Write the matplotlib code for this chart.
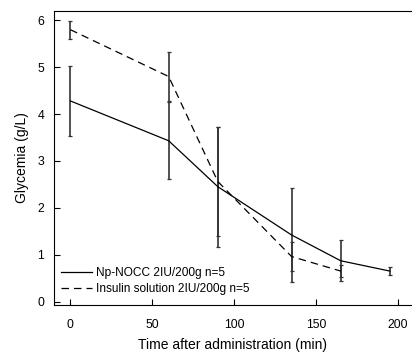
import matplotlib
matplotlib.use("Agg")
import matplotlib.pyplot as plt

plt.rcParams['font.family'] = ['Liberation Sans', 'DejaVu Sans']

# Np-NOCC 2IU/200g n=5
t_np = [0, 60, 90, 135, 165, 195]
g_np = [4.28, 3.43, 2.45, 1.42, 0.87, 0.65]
e_np = [0.75, 0.82, 1.28, 1.00, 0.44, 0.08]

# Insulin solution 2IU/200g n=5
t_ins = [0, 60, 90, 135, 165]
g_ins = [5.80, 4.80, 2.56, 0.96, 0.65]
e_ins = [0.19, 0.52, 1.17, 0.30, 0.13]

xticks = [0, 50, 100, 150, 200]
yticks = [0, 1, 2, 3, 4, 5, 6]

fig = plt.figure(figsize=(4.12, 3.52), dpi=100)
ax = fig.add_axes([0.131, 0.134, 0.867, 0.835])

ax.errorbar(t_np, g_np, yerr=e_np, color='black', lw=0.9, ecolor='#333333',
            elinewidth=1.2, capsize=1.6, capthick=0.9,
            label='Np-NOCC 2IU/200g n=5')
ax.errorbar(t_ins, g_ins, yerr=e_ins, color='black', lw=0.9, ecolor='#333333',
            elinewidth=1.2, capsize=1.6, capthick=0.9, dashes=(6, 4),
            label='Insulin solution 2IU/200g n=5')

ax.set_xlim(-10, 208)
ax.set_ylim(-0.07, 6.2)
ax.set_xticks(xticks)
ax.set_yticks(yticks)
ax.spines['right'].set_visible(False)
ax.tick_params(direction='in', length=4, width=0.8, labelsize=8.8)
ax.tick_params(axis='x', pad=10)
ax.tick_params(axis='y', pad=7)
ax.set_xlabel('Time after administration (min)', fontsize=10, labelpad=5)
ax.set_ylabel('Glycemia (g/L)', fontsize=10, labelpad=6)

handles, labels = ax.get_legend_handles_labels()
handles = [h[0] for h in handles]
ax.legend(handles, labels, loc='lower left', frameon=False, fontsize=8.6,
          handlelength=2.6, handletextpad=0.3, labelspacing=0.3,
          borderaxespad=0.2, bbox_to_anchor=(0.0, 0.01))

fig.savefig('out.png', dpi=100)
